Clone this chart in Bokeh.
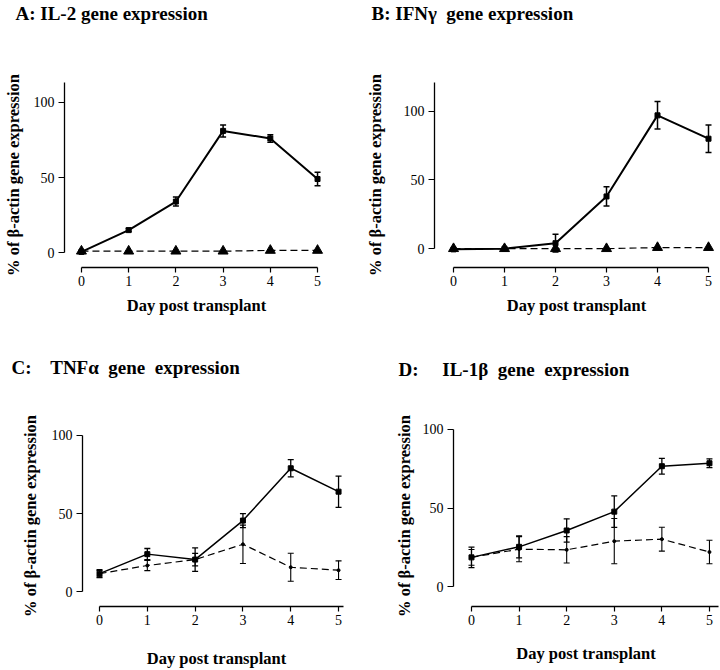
from bokeh.plotting import figure
from bokeh.models import ColumnDataSource, Whisker, TeeHead, FixedTicker, Range1d, Title
from bokeh.layouts import column, row
from bokeh.embed import file_html
from bokeh.resources import INLINE

# ---------------- data ----------------
days = [0, 1, 2, 3, 4, 5]
day_ticks = [0, 1, 2, 3, 4, 5]
pct_ticks = [0, 50, 100]

# A: IL-2
il2_tx = [0.5, 15, 34, 81, 76, 49]
il2_tx_err = [0.5, 1, 3, 4, 2.5, 4.5]
il2_ctrl = [1, 1, 1, 1, 1.5, 1.5]

# B: IFN-gamma
ifn_tx = [-0.5, 0, 4, 38, 97, 80]
ifn_tx_err = [0, 0, 6.5, 7, 10, 10]
ifn_ctrl = [0, 0, 0, 0, 0.8, 0.8]

# C: TNF-alpha
tnf_tx = [11.5, 24, 20.5, 45.5, 79, 64]
tnf_tx_err = [2.5, 3.6, 7.5, 4.5, 5.5, 10]
tnf_ctrl = [11.5, 16.7, 20.5, 30.3, 15.6, 13.7]
tnf_ctrl_err = [2, 3.3, 4, 12.3, 9, 6]

# D: IL-1beta
il1_tx = [18.6, 25.3, 35.7, 47.7, 76.6, 78.5]
il1_tx_err = [6.5, 7, 7.4, 10, 5, 2.8]
il1_ctrl = [18.6, 23.8, 23.4, 28.9, 30.2, 22]
il1_ctrl_err = [5, 8, 8.4, 14.4, 7.6, 7.5]

titles = [
    "A: IL-2 gene expression",
    "B: IFN\u03b3\u00a0 gene expression",
    "C:\u00a0\u00a0\u00a0 TNF\u03b1\u00a0 gene\u00a0 expression",
    "D:\u00a0\u00a0\u00a0\u00a0 IL-1\u03b2\u00a0 gene\u00a0 expression",
]
y_label = "% of \u03b2-actin gene expression"
x_label = "Day post transplant"

SERIF = "Liberation Serif"


def whisk(p, xs, vals, errs, width):
    src = ColumnDataSource(dict(x=xs,
                                lo=[v - e for v, e in zip(vals, errs)],
                                hi=[v + e for v, e in zip(vals, errs)]))
    w = Whisker(source=src, base="x", lower="lo", upper="hi",
                line_color="black", line_width=width,
                upper_head=TeeHead(size=6, line_color="black", line_width=width),
                lower_head=TeeHead(size=6, line_color="black", line_width=width))
    p.add_layout(w)


def panel(w, h, borders, xr, yr, xb, yb, xl_stand, yl_stand, title, t_off, gap):
    bl, br, bt, bb = borders
    p = figure(width=w, height=h, output_backend="svg", toolbar_location=None,
               x_range=Range1d(*xr), y_range=Range1d(*yr),
               min_border_left=bl, min_border_right=br,
               min_border_top=bt, min_border_bottom=bb,
               background_fill_color="white", border_fill_color="white")
    p.outline_line_color = None
    p.grid.visible = False
    # real heading (outer), with a thin spacer title between it and the frame
    p.title.text = title
    p.title.align = "left"
    p.title.offset = t_off
    p.title.standoff = 0
    p.title.text_font = SERIF
    p.title.text_font_size = "19px"
    p.title.text_font_style = "bold"
    p.title.text_color = "black"
    p.add_layout(Title(text="\u00a0", text_font_size="2px", standoff=gap), "above")

    p.xaxis.ticker = FixedTicker(ticks=day_ticks)
    p.yaxis.ticker = FixedTicker(ticks=pct_ticks)
    p.xaxis.bounds = xb
    p.yaxis.bounds = yb
    for ax in (p.xaxis[0], p.yaxis[0]):
        ax.axis_line_color = "black"
        ax.axis_line_width = 1.3
        ax.major_tick_line_color = "black"
        ax.major_tick_line_width = 1.2
        ax.major_tick_in = 0
        ax.minor_tick_line_color = None
        ax.major_label_text_font = SERIF
        ax.major_label_text_font_size = "14px"
        ax.major_label_text_color = "black"
        ax.axis_label_text_font = SERIF
        ax.axis_label_text_font_size = "16.5px"
        ax.axis_label_text_font_style = "bold"
        ax.axis_label_text_color = "black"
    p.xaxis.major_tick_out = 5
    p.yaxis.major_tick_out = 6
    p.xaxis.major_label_standoff = 3
    p.yaxis.major_label_standoff = 4
    p.xaxis.axis_label = x_label
    p.yaxis.axis_label = y_label
    p.xaxis.axis_label_standoff = xl_stand
    p.yaxis.axis_label_standoff = yl_stand
    return p


# ---------- Panel A ----------
pA = panel(360, 325, (63, 32, 80, 58), (-0.359, 5.232), (-9.87, 113.2),
           (0, 5), (0, 113.2), 7, 8, titles[0], -49, 55)
whisk(pA, days, il2_tx, il2_tx_err, 1.5)
pA.line(days, il2_ctrl, line_color="black", line_width=1.2, line_dash="7 4")
pA.scatter(days, il2_ctrl, marker="triangle", size=10, color="black")
pA.line(days, il2_tx, line_color="black", line_width=2)
pA.scatter(days, il2_tx, marker="square", size=5, color="black")

# ---------- Panel B ----------
pB = panel(360, 325, (74, 2, 80, 58), (-0.373, 5.196), (-13.7, 120.9),
           (0, 5), (0, 120.9), 7, 16, titles[1], -63, 55)
whisk(pB, days, ifn_tx, ifn_tx_err, 1.5)
pB.line(days, ifn_ctrl, line_color="black", line_width=1.2, line_dash="7 4")
pB.scatter(days, ifn_ctrl, marker="triangle", size=10, color="black")
pB.line(days, ifn_tx, line_color="black", line_width=2)
pB.scatter(days, ifn_tx, marker="square", size=5, color="black")

# ---------- Panel C ----------
pC = panel(360, 345, (82, 10, 100, 63), (-0.356, 5.25), (-9.55, 106.4),
           (0, 5.1), (0, 100), 21, 9, titles[2], -71, 44)
whisk(pC, days, tnf_ctrl, tnf_ctrl_err, 1.1)
whisk(pC, days, tnf_tx, tnf_tx_err, 1.3)
pC.line(days, tnf_ctrl, line_color="black", line_width=1.2, line_dash="7 4")
pC.scatter(days, tnf_ctrl, marker="circle", size=3, color="black")
pC.line(days, tnf_tx, line_color="black", line_width=1.5)
pC.scatter(days, tnf_tx, marker="square", size=5, color="black")

# ---------- Panel D ----------
pD = panel(360, 345, (93, 2, 100, 63), (-0.378, 5.19), (-12.66, 102.5),
           (0, 5.2), (0, 100), 16, 6, titles[3], -55, 42)
whisk(pD, days, il1_ctrl, il1_ctrl_err, 1.1)
whisk(pD, days, il1_tx, il1_tx_err, 1.3)
pD.line(days, il1_ctrl, line_color="black", line_width=1.2, line_dash="7 4")
pD.scatter(days, il1_ctrl, marker="circle", size=3, color="black")
pD.line(days, il1_tx, line_color="black", line_width=1.5)
pD.scatter(days, il1_tx, marker="square", size=5, color="black")

layout = column(row(pA, pB), row(pC, pD))
open("out.html", "w").write(file_html(layout, INLINE))
